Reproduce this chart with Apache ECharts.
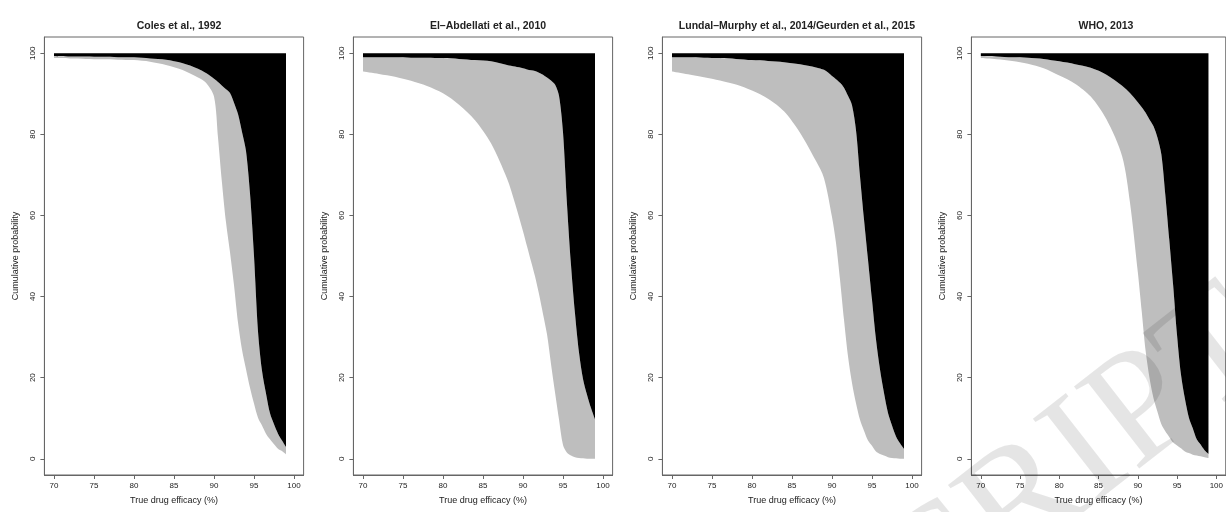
<!DOCTYPE html>
<html>
<head>
<meta charset="utf-8">
<script src="https://cdn.jsdelivr.net/npm/echarts@6/dist/echarts.min.js"></script>
<style>
  html, body { margin: 0; padding: 0; background: #fff; }
  #chart { width: 1226px; height: 512px; }
</style>
</head>
<body>
<div id="chart"></div>
<script>
// true drug efficacy (%) - shared x values of every panel
const efficacy = [70, 72, 74, 76, 78, 80, 82, 84, 86, 88, 89, 90, 90.5, 91, 91.5, 92, 92.5,
  93, 93.5, 94, 94.5, 95, 95.5, 96, 96.5, 97, 97.5, 98, 98.5, 99];

const panelTitles = ["Coles et al., 1992", "El\u2013Abdellati et al., 2010",
  "Lundal\u2013Murphy et al., 2014/Geurden et al., 2015", "WHO, 2013"];

const xTicks = [70, 75, 80, 85, 90, 95, 100];
const yTicks = [0, 20, 40, 60, 80, 100];

// cumulative probability: lower edge of the grey band / upper edge (where black starts)
const colesLower = [98.8, 98.7, 98.6, 98.5, 98.4, 98.3, 97.9, 97.1, 95.9, 94.0, 92.7, 89.3, 79.2, 68.0, 58.3,
  50.9, 42.8, 33.6, 26.9, 22.1, 17.5, 13.6, 10.1, 8.2, 6.2, 4.8, 3.6, 2.5, 1.9, 1.1];
const colesUpper = [99.3, 99.2, 99.2, 99.1, 99.0, 99.0, 98.7, 98.4, 97.6, 96.2, 95.1, 93.7, 92.9, 92.0, 91.1,
  90.2, 87.8, 85.0, 80.6, 75.9, 65.4, 50.0, 31.4, 21.7, 16.1, 11.2, 8.5, 6.2, 4.5, 2.9];

const abdellatiLower = [95.5, 94.9, 94.2, 93.2, 91.9, 90.1, 87.3, 83.5, 77.8, 69.1, 63.0, 56.1, 52.4, 48.7, 45.0,
  40.6, 35.7, 30.7, 23.4, 16.4, 9.7, 3.4, 1.5, 0.8, 0.4, 0.2, 0.1, 0, 0, 0];
const abdellatiUpper = [99.0, 99.0, 99.0, 98.9, 98.9, 98.8, 98.6, 98.3, 98.0, 97.1, 96.7, 96.3, 96.0, 95.8, 95.6,
  95.2, 94.7, 94.0, 93.3, 92.3, 89.5, 80.5, 62.7, 47.8, 35.8, 26.2, 19.7, 15.8, 12.5, 9.7];

const lundalLower = [95.5, 94.8, 94.1, 93.3, 92.3, 90.8, 88.8, 85.7, 80.4, 73.4, 69.2, 59.6, 53.2, 44.2, 34.3,
  25.3, 18.7, 13.7, 9.6, 6.9, 4.5, 3.2, 1.8, 1.2, 0.8, 0.4, 0.2, 0.1, 0, 0];
const lundalUpper = [99.0, 99.0, 98.9, 98.8, 98.6, 98.3, 98.1, 97.8, 97.3, 96.5, 95.9, 94.4, 93.6, 92.7, 91.5,
  89.5, 87.2, 81.0, 69.6, 59.0, 49.1, 39.2, 29.4, 22.0, 16.2, 11.3, 8.2, 5.5, 3.8, 2.4];

const whoLower = [98.8, 98.5, 98.1, 97.4, 96.3, 94.5, 92.5, 89.3, 83.7, 74.6, 63.2, 46.0, 36.3, 26.5, 19.8,
  14.9, 11.6, 8.5, 6.8, 5.4, 4.0, 3.3, 2.6, 1.8, 1.4, 1.0, 0.8, 0.6, 0.4, 0.2];
const whoUpper = [99.3, 99.2, 99.0, 98.9, 98.6, 98.0, 97.3, 96.4, 94.7, 92.0, 90.2, 87.9, 86.7, 85.3, 83.6,
  82.0, 79.2, 75.0, 65.1, 54.1, 42.8, 30.4, 20.7, 14.8, 10.2, 7.5, 4.8, 3.5, 2.1, 1.2];

const panels = [
  [colesLower, colesUpper],
  [abdellatiLower, abdellatiUpper],
  [lundalLower, lundalUpper],
  [whoLower, whoUpper]
];

// plot boxes
const boxLefts = [44.4, 353.4, 662.4, 971.4];
const boxWidth = 259.2;

const font = "'Liberation Sans', Arial, sans-serif";
const ink = "#222";
const frame = "#666";

const chart = echarts.init(document.getElementById("chart"));

const grid = boxLefts.map(left => ({
  left, width: boxWidth, top: 37, height: 438,
  show: true, borderColor: frame, borderWidth: 1, backgroundColor: "transparent"
}));

const xAxis = boxLefts.map((l, i) => ({
  type: "value", gridIndex: i, min: 68.8, max: 101.2, z: 10,
  name: "True drug efficacy (%)", nameLocation: "middle", nameGap: 21,
  nameTextStyle: { fontFamily: font, fontSize: 9, color: ink },
  axisLine: { show: true, onZero: false, lineStyle: { color: frame, width: 1 } },
  axisTick: { show: true, customValues: xTicks, length: 4, lineStyle: { color: frame } },
  axisLabel: { customValues: xTicks, fontFamily: font, fontSize: 8, color: ink, margin: 7 },
  splitLine: { show: false }
}));

const yAxis = boxLefts.map((l, i) => ({
  type: "value", gridIndex: i, min: -4, max: 104, z: 10,
  name: "Cumulative probability", nameLocation: "middle", nameRotate: 90, nameGap: 24,
  nameTextStyle: { fontFamily: font, fontSize: 9, color: ink },
  axisLine: { show: true, onZero: false, lineStyle: { color: frame, width: 1 } },
  axisTick: { show: true, customValues: yTicks, length: 4, lineStyle: { color: frame } },
  axisLabel: { customValues: yTicks, rotate: 90, fontFamily: font, fontSize: 8, color: ink, margin: 8 },
  splitLine: { show: false }
}));

const title = boxLefts.map((left, i) => ({
  text: panelTitles[i], left: left + boxWidth / 2, top: 16, textAlign: "center",
  textStyle: { fontFamily: font, fontSize: 10.5, fontWeight: "bold", color: ink }
}));

// stacked bands: invisible base up to the lower edge, grey band, black up to 100.
// probability is put in the first dimension so that the stack runs along y.
const series = [];
panels.forEach(([lower, upper], i) => {
  const band = (values, color) => ({
    type: "line", xAxisIndex: i, yAxisIndex: i, stack: "panel" + i, silent: true,
    symbol: "none", smooth: 0.3,
    encode: { x: 1, y: 0 },
    lineStyle: { width: 0, opacity: 0 },
    areaStyle: color ? { color, opacity: 1 } : { opacity: 0 },
    data: efficacy.map((x, k) => [values[k], x])
  });
  series.push(band(lower, null));
  series.push(band(upper.map((u, k) => u - lower[k]), "#bebebe"));
  series.push(band(upper.map(u => 100 - u), "#000"));
});

chart.setOption({
  animation: false,
  backgroundColor: "#fff",
  title, grid, xAxis, yAxis, series,
  graphic: [{
    type: "text", z: 100, silent: true,
    x: 1256, y: 324, rotation: 38 * Math.PI / 180,
    style: {
      text: "ACCEPTED MANUSCRIPT", fill: "rgba(0,0,0,0.1)",
      font: "160px 'Liberation Serif', serif",
      textAlign: "right", textVerticalAlign: "middle"
    }
  }]
});
</script>
</body>
</html>
